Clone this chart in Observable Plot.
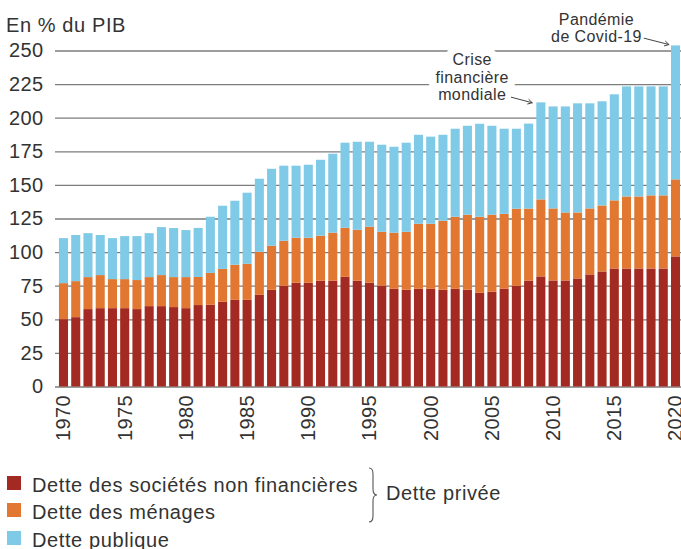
<!DOCTYPE html>
<html>
<head>
<meta charset="utf-8">
<script src="https://cdn.jsdelivr.net/npm/d3@7"></script>
<script src="https://cdn.jsdelivr.net/npm/@observablehq/plot@0.6"></script>
<style>
  body { margin: 0; background: #fff; }
  #wrap { position: relative; width: 681px; height: 549px; overflow: hidden;
          font-family: "Liberation Sans", Arial, Helvetica, sans-serif; color: #333; }
  #wrap svg text { letter-spacing: 0.4px; }
  .abs { position: absolute; white-space: nowrap; font-size: 20px; line-height: 20px; letter-spacing: 0.6px; color: #333; }
  .sw { position: absolute; width: 14px; height: 14px; left: 7px; }
</style>
</head>
<body>
<div id="wrap"></div>
<script>
// ---- Data (% of GDP) ----
const years = [1970,1971,1972,1973,1974,1975,1976,1977,1978,1979,1980,1981,1982,1983,1984,1985,1986,1987,1988,1989,1990,1991,1992,1993,1994,1995,1996,1997,1998,1999,2000,2001,2002,2003,2004,2005,2006,2007,2008,2009,2010,2011,2012,2013,2014,2015,2016,2017,2018,2019,2020];
const detteSocietes = [50.1,51.6,57.6,58.3,58.3,58.3,57.6,59.8,59.8,59.1,58.3,60.6,60.8,63.0,64.5,64.5,68.2,72.0,74.9,77.2,77.2,78.7,78.7,81.6,78.7,77.2,74.9,72.7,72.0,72.7,72.7,72.0,72.7,72.0,69.7,70.5,72.7,74.9,78.8,81.9,78.9,78.9,80.4,83.4,85.6,87.8,87.8,87.8,87.8,87.8,96.8];
const detteMenages = [26.8,26.8,23.8,24.6,21.6,21.6,21.6,21.6,23.1,22.3,23.1,20.9,23.7,24.5,26.1,26.8,32.0,32.7,33.5,33.5,33.5,33.5,35.7,36.5,37.9,41.7,40.2,41.7,43.1,48.4,48.4,51.3,53.6,55.8,56.6,57.3,55.8,57.4,53.6,57.3,53.6,50.6,49.1,49.1,49.1,50.7,53.6,53.6,54.4,54.4,57.3];
const dettePublique = [33.5,34.3,32.7,29.8,30.5,32.0,32.7,32.7,35.7,36.5,35.0,36.5,41.8,47.0,47.6,52.9,54.4,57.3,55.9,53.6,54.3,56.5,58.8,63.3,65.5,63.2,64.8,64.0,66.3,66.2,64.8,64.0,65.5,66.2,69.2,66.2,63.3,59.5,63.2,72.2,75.9,78.9,81.2,78.2,77.5,78.9,81.9,81.9,81.1,81.1,99.7];
const seriesNames = ["Dette des sociétés non financières", "Dette des ménages", "Dette publique"];
const seriesColors = ["#a32a22", "#e17730", "#7fcae6"];
const yTicks = [0,25,50,75,100,125,150,175,200,225,250];
const xTicks = [1970,1975,1980,1985,1990,1995,2000,2005,2010,2015,2020];
const bracketLabel = "Dette privée";
const yUnitLabel = "En % du PIB";
const annotationTexts = [
  {text: "Crise\nfinancière\nmondiale", year: 2003.35, value: 213.2, halo: true},
  {text: "Pandémie\nde Covid-19", year: 2013.5, value: 256.5, halo: false}
];
const annotationArrows = [
  {year1: 2006.55, value1: 215.6, year2: 2008.25, value2: 211.5},
  {year1: 2017.4, value1: 259.5, year2: 2019.42, value2: 254.8}
];

// ---- Build stacked table ----
const seriesValues = [detteSocietes, detteMenages, dettePublique];
const stacked = [];
years.forEach((yr, i) => {
  let base = 0;
  seriesValues.forEach((vals, s) => {
    stacked.push({year: yr, series: seriesNames[s], y1: base, y2: base + vals[i]});
    base += vals[i];
  });
});

const FONT = '"Liberation Sans", Arial, Helvetica, sans-serif';
const half = 0.37;

const chart = Plot.plot({
  width: 681,
  height: 445,
  marginLeft: 55,
  marginRight: 0,
  marginTop: 50.5,
  marginBottom: 58.5,
  style: {fontFamily: FONT, fontSize: "20px", color: "#333", background: "transparent", overflow: "visible"},
  x: {domain: [1969.306, 2020.449], ticks: xTicks, tickFormat: "d", tickSize: 0, tickPadding: 8, tickRotate: -90, label: null},
  y: {domain: [0, 250], ticks: yTicks, tickSize: 0, tickPadding: 12, label: null},
  color: {domain: seriesNames, range: seriesColors},
  marks: [
    Plot.ruleY(yTicks, {stroke: "#7d7d7d", strokeWidth: 1.3}),
    Plot.rect(stacked, {x1: d => d.year - half, x2: d => d.year + half, y1: "y1", y2: "y2", fill: "series"}),
    Plot.text(annotationTexts.filter(d => d.halo), {x: "year", y: "value", text: "text", textAnchor: "middle", lineAnchor: "bottom", lineHeight: 1.1, fontSize: 16, fill: "white", stroke: "white", strokeWidth: 16}),
    Plot.text(annotationTexts, {x: "year", y: "value", text: "text", textAnchor: "middle", lineAnchor: "bottom", lineHeight: 1.1, fontSize: 16, fill: "#333"}),
    Plot.arrow(annotationArrows, {x1: "year1", y1: "value1", x2: "year2", y2: "value2", stroke: "#444", strokeWidth: 1, headLength: 7})
  ]
});

const wrap = document.getElementById("wrap");
wrap.appendChild(chart);

function addText(txt, left, baseline, size) {
  const d = document.createElement("div");
  d.className = "abs";
  d.textContent = txt;
  d.style.left = left + "px";
  d.style.top = (baseline - 0.846 * (size || 20)) + "px";
  if (size) { d.style.fontSize = size + "px"; d.style.lineHeight = size + "px"; }
  wrap.appendChild(d);
}
addText(yUnitLabel, 6, 32);

// Legend
const rowsTop = [476, 503, 531];
seriesNames.forEach((name, i) => {
  const sw = document.createElement("div");
  sw.className = "sw";
  sw.style.top = rowsTop[i] + "px";
  sw.style.background = seriesColors[i];
  wrap.appendChild(sw);
  addText(name, 32, rowsTop[i] + 15.5);
});
addText(bracketLabel, 386, 499.5);

// Brace for "Dette privée"
const ns = "http://www.w3.org/2000/svg";
const br = document.createElementNS(ns, "svg");
br.setAttribute("width", "20"); br.setAttribute("height", "60");
br.style.position = "absolute"; br.style.left = "364px"; br.style.top = "466px";
const p = document.createElementNS(ns, "path");
p.setAttribute("d", "M5,2 Q9,2 9,8 L9,23 Q9,29 13,29 Q9,29 9,35 L9,50 Q9,56 5,56");
p.setAttribute("fill", "none"); p.setAttribute("stroke", "#555"); p.setAttribute("stroke-width", "1.1");
br.appendChild(p);
wrap.appendChild(br);
</script>
</body>
</html>
